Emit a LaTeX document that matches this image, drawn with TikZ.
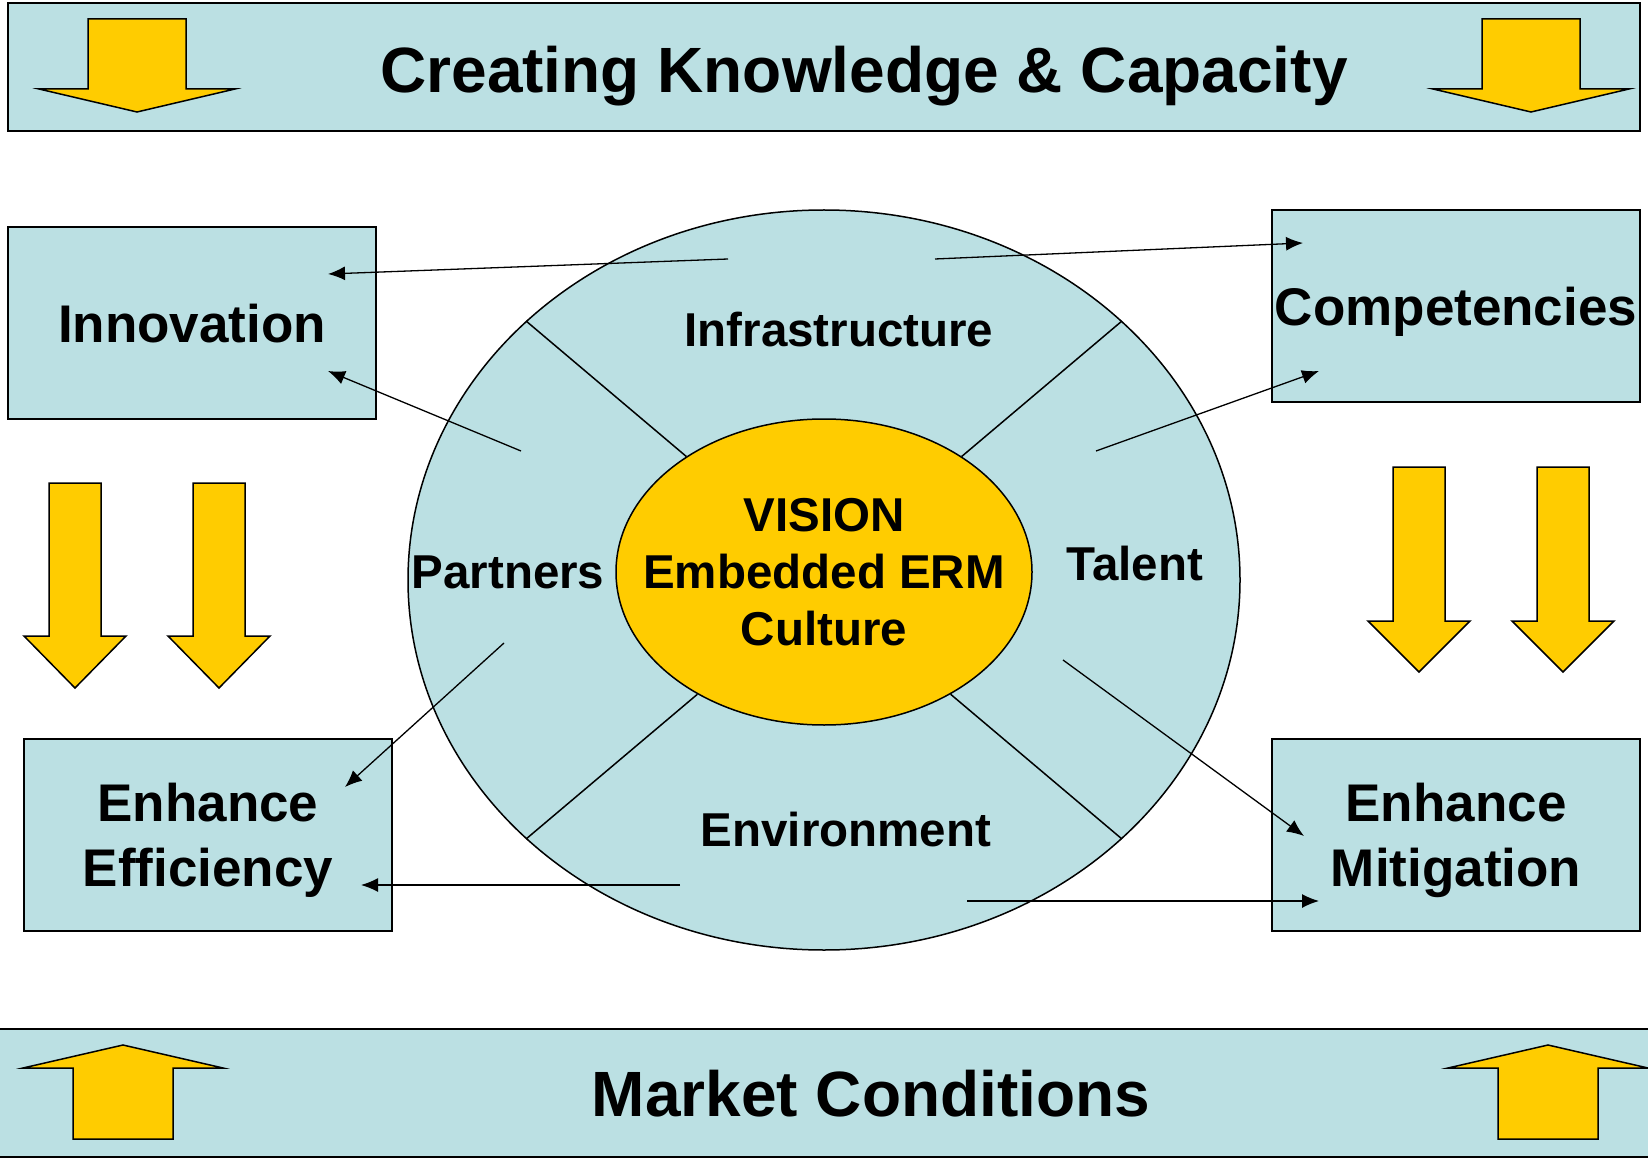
\documentclass[tikz,border=0pt]{standalone}
\usepackage{fontspec}
\setmainfont{Liberation Sans}
\usetikzlibrary{shapes.geometric, arrows.meta}
\definecolor{paleblue}{RGB}{187,224,227}
\definecolor{gold}{RGB}{255,204,0}

\begin{document}
\begin{tikzpicture}[x=0.5pt, y=-0.5pt,
    band/.style={draw, line width=1pt, fill=paleblue, minimum width=816pt, minimum height=64pt, inner sep=0pt},
    title/.style={anchor=base, font=\fontsize{32pt}{38pt}\selectfont\bfseries},
    goal/.style={draw, line width=1pt, fill=paleblue, minimum width=184pt, minimum height=96pt,
      inner sep=0pt, align=center, text depth=0pt, font=\fontsize{26.5pt}{32.25pt}\selectfont\bfseries},
    part/.style={anchor=base, inner sep=0pt, font=\fontsize{23.75pt}{28.6pt}\selectfont\bfseries},
    blockarrow/.style={fill=gold, draw, line width=0.75pt},
    link/.style={line width=0.65pt, -{Latex[length=8.5pt, width=7pt]}}]
  \useasboundingbox (0,0) rectangle (1648,1160);
  %bands
  \node[band] (knowledge) at (824,67) {};
  \node[band, minimum width=827pt] (market) at (825,1093) {};
  \node[title] (knowtitle) at (864,93) {Creating Knowledge \& Capacity};
  \node[title] (markettitle) at (871,1116) {Market Conditions};
  \foreach \x in {137, 1531}{
    \filldraw[blockarrow] (\x-49,19) -- (\x+49,19) -- (\x+49,89) -- (\x+98,89) -- (\x,112)
      -- (\x-98,89) -- (\x-49,89) -- cycle;
  }
  \foreach \x in {123, 1548}{
    \filldraw[blockarrow] (\x-50,1139) -- (\x-50,1068) -- (\x-100,1068) -- (\x,1045)
      -- (\x+100,1068) -- (\x+50,1068) -- (\x+50,1139) -- cycle;
  }
  %down arrows at the sides
  \foreach \x/\t/\b/\p in {75/483/636/688, 219/483/636/688, 1419/467/621/672, 1563/467/621/672}{
    \filldraw[blockarrow] (\x-26,\t) -- (\x+26,\t) -- (\x+26,\b) -- (\x+51,\b) -- (\x,\p)
      -- (\x-51,\b) -- (\x-26,\b) -- cycle;
  }
  %goals
  \node[goal] (innovation) at (192,323) {Innovation};
  \node[goal] (competencies) at (1456,306) {Competencies};
  \node[goal] (efficiency) at (208,835) {Enhance\\Efficiency};
  \node[goal] (mitigation) at (1456,835) {Enhance\\Mitigation};
  %ring and vision
  \node[draw, ellipse, line width=0.75pt, fill=paleblue, minimum width=416pt, minimum height=370pt,
    inner sep=0pt] (ring) at (824,580) {};
  \node[draw, ellipse, line width=0.75pt, fill=gold, minimum width=208pt, minimum height=153pt,
    inner sep=0pt] (vision) at (824,572) {};
  \node[align=center, inner sep=0pt, text depth=0pt, font=\fontsize{23.75pt}{28.6pt}\selectfont\bfseries]
    (visiontext) at (824,572) {VISION\\Embedded ERM\\Culture};
  \foreach \a/\b in {40/41, 140/139, 224/221, 316/319}{
    \draw[line width=0.75pt] (vision.\a) -- (ring.\b);
  }
  \node[part] (infra) at (839,347) {Infrastructure};
  \node[part] (partners) at (508,588) {Partners};
  \node[part] (talent) at (1135,580) {Talent};
  \node[part] (environment) at (846,846) {Environment};
  %links
  \coordinate (infL) at (728,259);  \coordinate (innT) at (328,274);
  \coordinate (infR) at (935,259);  \coordinate (comT) at (1303,243);
  \coordinate (parU) at (521,451);  \coordinate (innB) at (328,371);
  \coordinate (talU) at (1096,451); \coordinate (comB) at (1319,371);
  \coordinate (parD) at (504,643);  \coordinate (effT) at (345,787);
  \coordinate (envL) at (680,885);  \coordinate (effB) at (361,885);
  \coordinate (talD) at (1063,660); \coordinate (mitT) at (1304,836);
  \coordinate (envR) at (967,901);  \coordinate (mitB) at (1319,901);
  \draw[link] (infL) -- (innT);
  \draw[link] (infR) -- (comT);
  \draw[link] (parU) -- (innB);
  \draw[link] (talU) -- (comB);
  \draw[link] (parD) -- (effT);
  \draw[link] (envL) -- (effB);
  \draw[link] (talD) -- (mitT);
  \draw[link] (envR) -- (mitB);
\end{tikzpicture}
\end{document}
